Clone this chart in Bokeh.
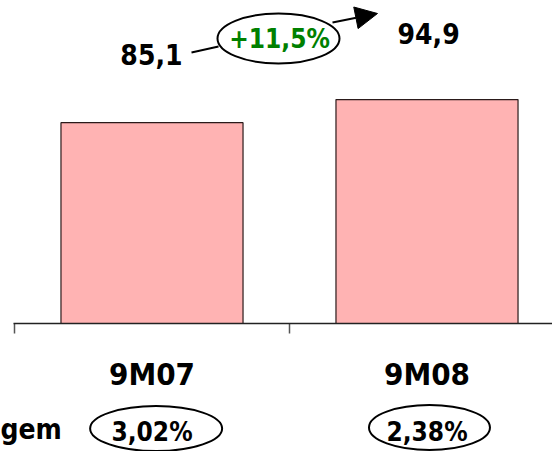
from bokeh.plotting import figure
from bokeh.models import Range1d, Arrow, NormalHead
from bokeh.core.properties import value
from bokeh.embed import file_html
from bokeh.resources import INLINE

# ---- data ----
categories = ["9M07", "9M08"]
revenue = [85.1, 94.9]
margin = [3.02, 2.38]
row_label = "gem"   # visible tail of the row label "Margem"


def br(v, d=1):
    return f"{v:.{d}f}".replace(".", ",")


growth = (revenue[1] / revenue[0] - 1) * 100
growth_label = "+" + br(growth) + "%"
margin_labels = [br(m, 2) + "%" for m in margin]
value_labels = [br(v) for v in revenue]

# ---- geometry helpers (canvas pixel -> data) ----
W, H = 552, 451
PX = 275.0   # pixels per category
PY = 2.36    # pixels per unit of value
x0 = -0.5 - 14 / PX
ytop = 323 / PY


def X(px):
    return x0 + px / PX


def Y(py):
    return ytop - py / PY


FONT = value("DejaVu Sans Condensed, DejaVu Sans")
TXT = dict(text_baseline="middle", text_font=FONT, text_font_style="bold")

p = figure(width=W, height=H, output_backend="svg", toolbar_location=None,
           x_range=Range1d(X(0), X(W)), y_range=Range1d(Y(H), Y(0)),
           x_axis_location=None, y_axis_location=None, min_border=0)
p.grid.visible = False
p.outline_line_color = None
p.background_fill_color = "white"
p.border_fill_color = "white"

xs = list(range(len(categories)))

# bars
p.vbar(x=xs, top=revenue, bottom=0, width=0.662, fill_color="#FFB3B3",
       line_color="#2a1a1a", line_width=1.2)

# category axis baseline and boundary ticks
bounds = [i - 0.5 for i in range(len(categories) + 1)]
p.segment(x0=bounds, y0=[0] * len(bounds), x1=bounds, y1=[-10 / PY] * len(bounds),
          line_color="#555555", line_width=1.5)
p.segment(x0=[X(13)], y0=[0], x1=[X(W)], y1=[0], line_color="#222222", line_width=1.3)

# category labels
p.text(x=xs, y=[Y(373)] * len(xs), text=categories, text_align="center",
       text_font_size="31px", text_color="black", **TXT)

# value labels
p.text(x=[X(182)], y=[Y(54)], text=[value_labels[0]], text_align="right",
       text_font_size="28px", text_color="black", **TXT)
p.text(x=[X(397)], y=[Y(33)], text=[value_labels[1]], text_align="left",
       text_font_size="28px", text_color="black", **TXT)

# growth bubble with arrow
p.line(x=[X(191), X(218)], y=[Y(52), Y(46)], line_color="black", line_width=2)
p.ellipse(x=[X(278)], y=[Y(38)], width=122, height=50, width_units="screen",
          height_units="screen", fill_color="white", line_color="black", line_width=2)
p.text(x=[X(279)], y=[Y(38)], text=[growth_label], text_align="center",
       text_font_size="26px", text_color="#008000", **TXT)
p.add_layout(Arrow(end=NormalHead(size=22, fill_color="black", line_color="black"),
                   x_start=X(332), y_start=Y(22), x_end=X(377), y_end=Y(13),
                   line_color="black", line_width=2))

# margin row
p.text(x=[X(0)], y=[Y(429)], text=[row_label], text_align="left",
       text_font_size="28px", text_color="black", **TXT)
p.ellipse(x=[xs[0] + 0.015, xs[1] + 0.009], y=[Y(428), Y(427)], width=[132, 121],
          height=45, width_units="screen", height_units="screen",
          fill_color=None, line_color="black", line_width=2)
p.text(x=xs, y=[Y(431)] * len(xs), text=margin_labels, text_align="center",
       text_font_size="26px", text_color="black", **TXT)

open("out.html", "w").write(file_html(p, INLINE))
